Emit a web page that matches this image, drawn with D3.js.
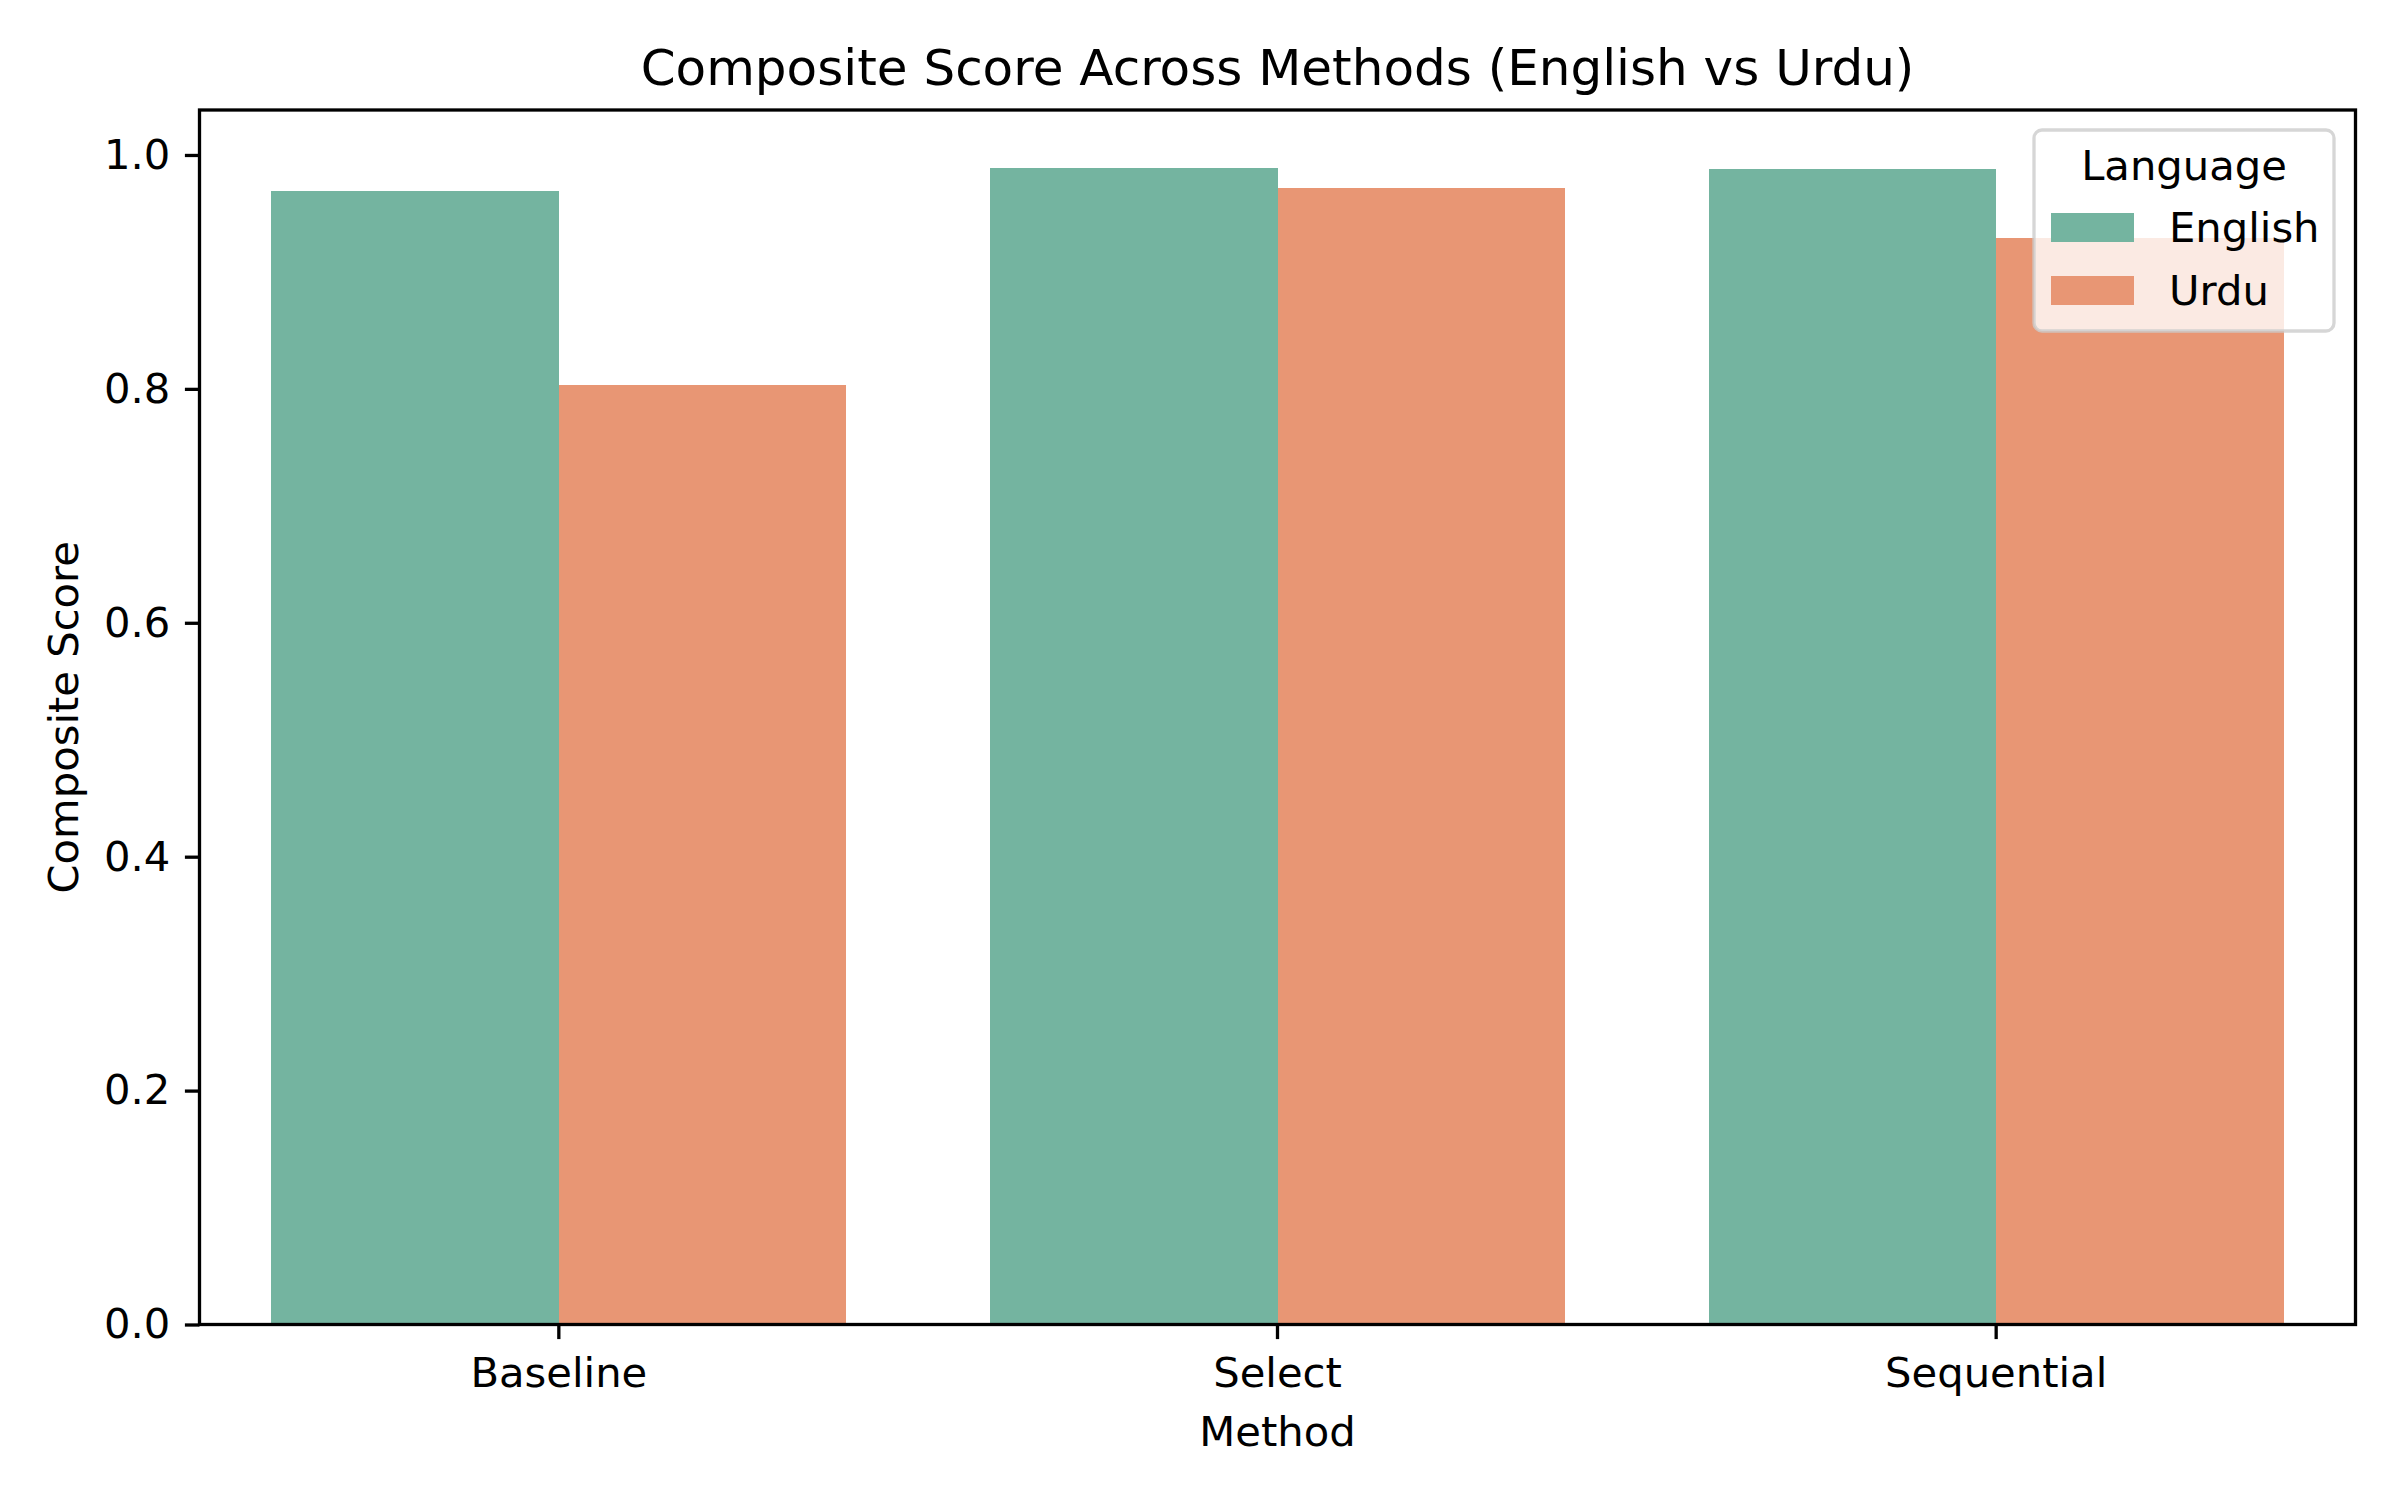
<!DOCTYPE html>
<html>
<head>
<meta charset="utf-8">
<script src="https://cdn.jsdelivr.net/npm/d3@7"></script>
<style>
  body { margin: 0; background: #fff; }
  svg { font-family: "DejaVu Sans", sans-serif; }
</style>
</head>
<body>
<div id="chart"></div>
<script>
// data
let methods = ['Baseline', 'Select', 'Sequential'];
let languages = ['English', 'Urdu'];
let english_score = [0.969, 0.989, 0.988];
let urdu_score = [0.803, 0.972, 0.929];
let y_ticks = [0.0, 0.2, 0.4, 0.6, 0.8, 1.0];

let colors = ['#74b4a0', '#e89674'];

let width = 2400, height = 1500;
let margin = {left: 199.5, right: 2355.5, top: 110, bottom: 1324.5};
let fs = 41.7;

let rows = methods.map((m, i) => ({method: m, values: [english_score[i], urdu_score[i]]}));

let svg = d3.select('#chart')
    .append('svg')
    .attr('width', width)
    .attr('height', height);

let x = d3.scaleBand()
    .domain(methods)
    .range([margin.left, margin.right])
    .paddingInner(0.2)
    .paddingOuter(0.1);

let x_sub = d3.scaleBand()
    .domain(languages)
    .range([0, x.bandwidth()]);

let y_max = d3.max(english_score.concat(urdu_score)) * 1.05;
let y = d3.scaleLinear()
    .domain([0, y_max])
    .range([margin.bottom, margin.top]);

//畫長條
let groups = svg.append('g')
    .selectAll('g')
    .data(rows)
    .join('g')
    .attr('transform', d => `translate(${x(d.method)},0)`);

groups.selectAll('rect')
    .data(d => d.values.map((v, j) => ({lang: languages[j], value: v, j: j})))
    .join('rect')
    .attr('x', d => x_sub(d.lang))
    .attr('width', x_sub.bandwidth())
    .attr('y', d => y(d.value))
    .attr('height', d => y(0) - y(d.value))
    .attr('shape-rendering', 'crispEdges')
    .style('fill', d => colors[d.j]);

//軸
let tick_len = 14.6, tick_pad = 14.6, tick_w = 3.3;

let y_axis = svg.append('g')
    .attr('transform', `translate(${margin.left},0)`)
    .call(d3.axisLeft(y).tickValues(y_ticks).tickFormat(d3.format('.1f'))
        .tickSize(tick_len).tickPadding(tick_pad));
y_axis.attr('font-family', null).attr('font-size', null);
y_axis.select('.domain').remove();
y_axis.selectAll('line').attr('stroke', '#000').attr('stroke-width', tick_w);
y_axis.selectAll('text').style('font-size', fs + 'px').attr('fill', '#000');

let x_axis = svg.append('g')
    .attr('transform', `translate(0,${margin.bottom})`)
    .call(d3.axisBottom(x).tickSize(tick_len).tickPadding(tick_pad));
x_axis.attr('font-family', null).attr('font-size', null);
x_axis.select('.domain').remove();
x_axis.selectAll('line').attr('stroke', '#000').attr('stroke-width', tick_w);
x_axis.selectAll('text').style('font-size', fs + 'px').attr('fill', '#000')
    .attr('dy', null).attr('y', 62.5);

//外框
svg.append('rect')
    .attr('x', margin.left)
    .attr('y', margin.top)
    .attr('width', margin.right - margin.left)
    .attr('height', margin.bottom - margin.top)
    .style('fill', 'none')
    .style('stroke', '#000')
    .style('stroke-width', tick_w);

//標題
svg.append('text')
    .attr('x', (margin.left + margin.right) / 2)
    .attr('y', 85)
    .style('text-anchor', 'middle')
    .style('font-size', '50px')
    .text('Composite Score Across Methods (English vs Urdu)');

svg.append('text')
    .attr('x', (margin.left + margin.right) / 2)
    .attr('y', 1446)
    .style('text-anchor', 'middle')
    .style('font-size', fs + 'px')
    .text('Method');

svg.append('text')
    .attr('transform', `translate(78,${(margin.top + margin.bottom) / 2}) rotate(-90)`)
    .style('text-anchor', 'middle')
    .style('font-size', fs + 'px')
    .text('Composite Score');

//圖例
let legend = svg.append('g');
legend.append('rect')
    .attr('x', 2034)
    .attr('y', 130)
    .attr('width', 300)
    .attr('height', 201)
    .attr('rx', 8)
    .style('fill', '#fff')
    .style('fill-opacity', 0.8)
    .style('stroke', '#ccc')
    .style('stroke-opacity', 0.8)
    .style('stroke-width', 3.3);

legend.append('text')
    .attr('x', 2184)
    .attr('y', 180)
    .style('text-anchor', 'middle')
    .style('font-size', fs + 'px')
    .text('Language');

legend.selectAll('.item')
    .data(languages)
    .join('g')
    .attr('class', 'item')
    .attr('transform', (d, i) => `translate(0,${i * 63})`)
    .each(function (d, i) {
        let g = d3.select(this);
        g.append('rect')
            .attr('x', 2051)
            .attr('y', 213)
            .attr('width', 83)
            .attr('height', 29)
            .style('fill', colors[i]);
        g.append('text')
            .attr('x', 2169)
            .attr('y', 242)
            .style('font-size', fs + 'px')
            .text(d);
    });
</script>
</body>
</html>
